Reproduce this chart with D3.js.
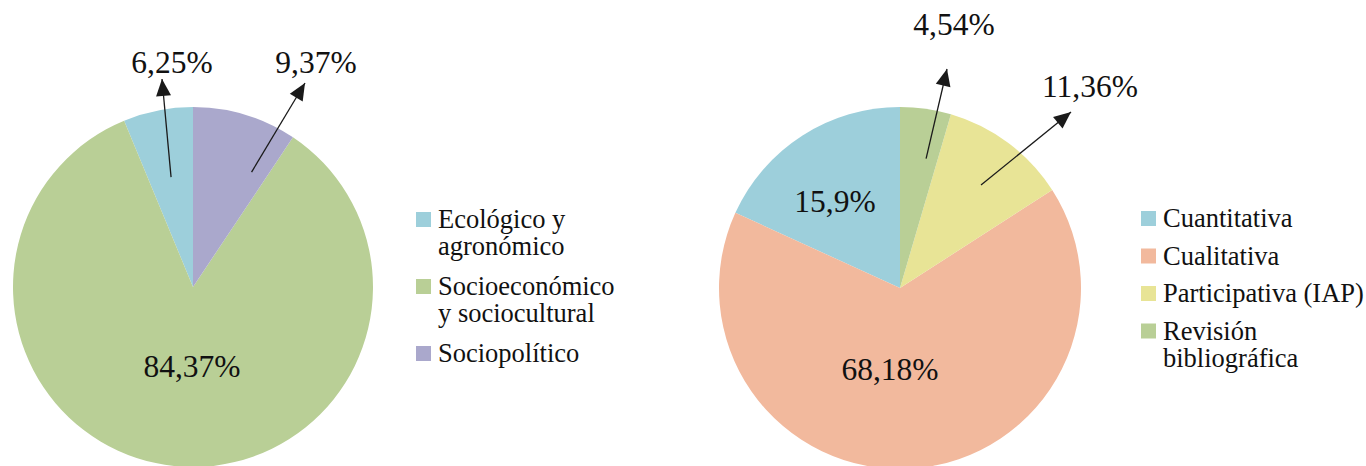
<!DOCTYPE html>
<html>
<head>
<meta charset="utf-8">
<script src="https://cdn.jsdelivr.net/npm/d3@7"></script>
<style>
  body { margin: 0; background: #fff; }
</style>
</head>
<body>
<script>
// left pie: área temática
const temas = [["Ecológico y", "agronómico"], ["Socioeconómico", "y sociocultural"], ["Sociopolítico"]];
const temasValores = [6.25, 84.37, 9.37];
const temasEtiquetas = ["6,25%", "84,37%", "9,37%"];
const temasColores = ["#9dcfdb", "#b9cf96", "#aaa8cc"];

// right pie: enfoque metodológico (slice sizes as drawn in the picture)
const enfoques = [["Cuantitativa"], ["Cualitativa"], ["Participativa (IAP)"], ["Revisión", "bibliográfica"]];
const enfoquesValores = [18.18, 65.92, 11.36, 4.54];
const enfoquesEtiquetas = ["15,9%", "68,18%", "11,36%", "4,54%"];
const enfoquesColores = ["#9dcfdb", "#f2b99d", "#e8e496", "#b9cf96"];

const width = 1366, height = 466;
const font = '"Liberation Serif", "Times New Roman", serif';

const svg = d3.select("body").append("svg")
    .attr("width", width)
    .attr("height", height);

svg.append("defs").append("marker")
    .attr("id", "head")
    .attr("markerUnits", "userSpaceOnUse")
    .attr("markerWidth", 20).attr("markerHeight", 20)
    .attr("refX", 0).attr("refY", 0)
    .attr("viewBox", "-18 -8 20 16")
    .attr("orient", "auto")
  .append("path")
    .attr("d", "M0,0L-17,-7.5L-17,7.5Z")
    .attr("fill", "#1a1a1a");

// layout for each chart (positions of labels and arrows)
const charts = [
  {
    names: temas, values: temasValores, labels: temasEtiquetas, colors: temasColores,
    cx: 193, cy: 287, r: 180, legendX: 416, legendY: 228, gap: 13,
    labelPos: [
      {x: 172, y: 73, arrow: {a: -11.3, r: 112, tip: [162, 79]}},
      {x: 192, y: 377},
      {x: 316, y: 73, arrow: {a: 27, r: 129, tip: [305, 83]}}
    ]
  },
  {
    names: enfoques, values: enfoquesValores, labels: enfoquesEtiquetas, colors: enfoquesColores,
    cx: 900, cy: 288, r: 181, legendX: 1141, legendY: 227, gap: 10.5,
    labelPos: [
      {x: 835, y: 212},
      {x: 890, y: 380},
      {x: 1090, y: 97, arrow: {a: 38.2, r: 131, tip: [1071, 112]}},
      {x: 954, y: 35, arrow: {a: 11.4, r: 132, tip: [947, 69]}}
    ]
  }
];

const pie = d3.pie()
    .sort(null)
    .startAngle(0)
    .endAngle(-2 * Math.PI);

charts.forEach(c => {
  const arcs = pie(c.values);
  const arc = d3.arc().innerRadius(0).outerRadius(c.r);
  const color = d3.scaleOrdinal().domain(d3.range(c.values.length)).range(c.colors);

  const g = svg.append("g")
      .attr("transform", `translate(${c.cx},${c.cy})`);

  g.selectAll("path")
    .data(arcs)
    .enter().append("path")
      .attr("fill", (d, i) => color(i))
      .attr("d", arc);

  // arrows from slice to outside label
  c.labelPos.forEach(p => {
    if (!p.arrow) return;
    const a = p.arrow.a * Math.PI / 180;
    const x1 = c.cx + p.arrow.r * Math.sin(a);
    const y1 = c.cy - p.arrow.r * Math.cos(a);
    svg.append("line")
        .attr("x1", x1).attr("y1", y1)
        .attr("x2", p.arrow.tip[0]).attr("y2", p.arrow.tip[1])
        .attr("stroke", "#1a1a1a")
        .attr("stroke-width", 1.3)
        .attr("marker-end", "url(#head)");
  });

  svg.append("g")
    .selectAll("text")
    .data(c.labels)
    .enter().append("text")
      .attr("x", (d, i) => c.labelPos[i].x)
      .attr("y", (d, i) => c.labelPos[i].y)
      .attr("text-anchor", "middle")
      .attr("fill", "#111")
      .style("font-family", font)
      .style("font-size", "31.5px")
      .text(d => d);

  // legend
  const lineH = 27;
  let y = c.legendY;
  const legend = svg.append("g");
  c.names.forEach((lines, i) => {
    legend.append("rect")
        .attr("x", c.legendX)
        .attr("y", y - 16)
        .attr("width", 15)
        .attr("height", 15)
        .attr("fill", color(i));
    const t = legend.append("text")
        .attr("x", c.legendX + 22)
        .attr("y", y)
        .attr("fill", "#111")
        .style("font-family", font)
        .style("font-size", "26.5px");
    lines.forEach((s, j) => {
      t.append("tspan")
          .attr("x", c.legendX + 22)
          .attr("dy", j ? lineH : 0)
          .text(s);
    });
    y += lines.length * lineH + c.gap;
  });
});
</script>
</body>
</html>
